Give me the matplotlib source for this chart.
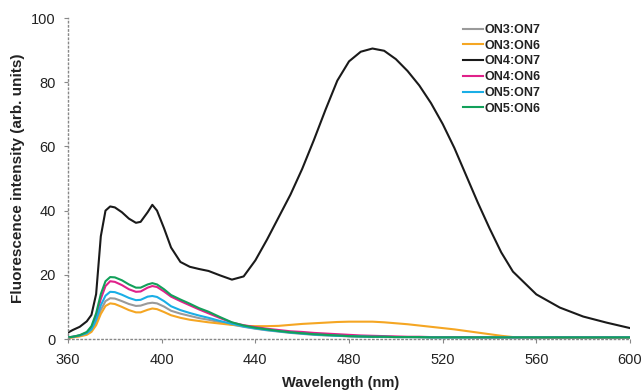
import matplotlib
matplotlib.use("Agg")
import matplotlib.pyplot as plt

wavelength = [360, 362, 365, 368, 370, 372, 374, 376, 378, 380, 383, 386, 389, 391, 394, 396, 398,
              401, 404, 408, 412, 416, 420, 425, 430, 435, 440, 445, 450, 455, 460, 465, 470, 475,
              480, 485, 490, 495, 500, 505, 510, 515, 520, 525, 530, 535, 540, 545, 550, 560, 570,
              580, 590, 600]

on3_on7 = [0.4, 0.6, 1.0, 1.6, 2.6, 5.0, 9.0, 11.8, 12.7, 12.6, 11.8, 10.9, 10.3, 10.4, 11.1, 11.3, 11.1,
           10.1, 8.8, 7.9, 7.2, 6.5, 6.0, 5.2, 4.5, 3.8, 3.2, 2.7, 2.3, 1.9, 1.6, 1.3, 1.1, 1.0,
           0.8, 0.7, 0.7, 0.6, 0.6, 0.6, 0.5, 0.5, 0.5, 0.5, 0.5, 0.5, 0.5, 0.5, 0.5, 0.5, 0.5,
           0.5, 0.5, 0.5]
on3_on6 = [0.3, 0.5, 0.8, 1.3, 2.2, 4.3, 7.8, 10.3, 11.1, 10.9, 10.0, 9.0, 8.3, 8.3, 9.1, 9.5, 9.3,
           8.4, 7.4, 6.6, 6.0, 5.6, 5.2, 4.8, 4.4, 4.1, 4.0, 4.0, 4.1, 4.4, 4.7, 4.9, 5.1, 5.3,
           5.4, 5.4, 5.4, 5.2, 4.9, 4.6, 4.2, 3.8, 3.4, 3.0, 2.5, 2.0, 1.5, 1.0, 0.6, 0.4, 0.3,
           0.3, 0.3, 0.3]
on4_on7 = [2.0, 2.8, 3.8, 5.5, 7.5, 14.0, 32.0, 40.0, 41.3, 41.0, 39.5, 37.5, 36.2, 36.5, 39.5, 41.8, 40.0,
           34.5, 28.5, 24.0, 22.5, 21.8, 21.2, 19.8, 18.5, 19.5, 24.5, 31.0, 38.0, 45.0, 53.0, 62.0, 71.5, 80.5,
           86.5, 89.5, 90.5, 89.8, 87.2, 83.5, 79.0, 73.5, 67.0, 59.5, 51.0, 42.5, 34.5, 27.0, 21.0, 13.9, 9.8,
           7.0, 5.1, 3.4]
on4_on6 = [0.5, 0.7, 1.1, 2.0, 3.5, 7.0, 12.5, 16.5, 18.0, 17.8, 16.8, 15.5, 14.7, 14.8, 16.0, 16.5, 16.2,
           14.8, 13.2, 11.8, 10.5, 9.2, 8.0, 6.5, 5.1, 4.3, 3.7, 3.2, 2.8, 2.4, 2.2, 1.9, 1.7, 1.5,
           1.3, 1.1, 1.0, 0.9, 0.8, 0.7, 0.7, 0.6, 0.6, 0.6, 0.6, 0.5, 0.5, 0.5, 0.5, 0.5, 0.5,
           0.5, 0.5, 0.5]
on5_on7 = [0.5, 0.7, 1.1, 1.8, 3.0, 6.0, 10.5, 13.5, 14.7, 14.6, 13.8, 12.8, 12.1, 12.2, 13.2, 13.4, 13.1,
           11.8, 10.2, 9.0, 8.1, 7.3, 6.6, 5.6, 4.7, 3.9, 3.3, 2.8, 2.4, 2.0, 1.7, 1.4, 1.2, 1.0,
           0.9, 0.8, 0.7, 0.7, 0.6, 0.6, 0.6, 0.5, 0.5, 0.5, 0.5, 0.5, 0.5, 0.5, 0.5, 0.5, 0.5,
           0.5, 0.5, 0.5]
on5_on6 = [0.5, 0.7, 1.2, 2.2, 4.0, 8.0, 14.0, 18.0, 19.3, 19.2, 18.3, 17.0, 16.0, 16.0, 17.0, 17.4, 17.0,
           15.5, 13.7, 12.3, 11.0, 9.6, 8.5, 6.8, 5.2, 4.2, 3.5, 3.0, 2.5, 2.1, 1.8, 1.5, 1.3, 1.1,
           0.9, 0.8, 0.7, 0.7, 0.6, 0.6, 0.6, 0.5, 0.5, 0.5, 0.5, 0.5, 0.5, 0.5, 0.5, 0.5, 0.5,
           0.5, 0.5, 0.5]

series_labels = ["ON3:ON7", "ON3:ON6", "ON4:ON7", "ON4:ON6", "ON5:ON7", "ON5:ON6"]
series_values = [on3_on7, on3_on6, on4_on7, on4_on6, on5_on7, on5_on6]
colors = ["#9a9a9a", "#f5a623", "#1a1a1a", "#e0218a", "#1aaee6", "#12a05a"]

x_ticks = [360, 400, 440, 480, 520, 560, 600]
y_ticks = [0, 20, 40, 60, 80, 100]

plt.rcParams['font.family'] = ['Liberation Sans', 'DejaVu Sans']

fig = plt.figure(figsize=(6.43, 3.92), dpi=100)
ax = fig.add_axes([0.1058, 0.1352, 0.874, 0.8188])

for lab, vals, col in zip(series_labels, series_values, colors):
    ax.plot(wavelength, vals, color=col, lw=1.5, label=lab)

ax.set_xlim(360, 600)
ax.set_ylim(0, 100)
ax.set_xticks(x_ticks)
ax.set_yticks(y_ticks)
ax.tick_params(axis='both', labelsize=10.5, labelcolor='#222222', color='#888888',
               length=3, width=0.8)
ax.tick_params(axis='x', pad=7)
ax.tick_params(axis='y', pad=6)

for s in ['top', 'right']:
    ax.spines[s].set_visible(False)
for s in ['left', 'bottom']:
    ax.spines[s].set_linestyle((0, (1, 2)))
    ax.spines[s].set_color('#888888')
    ax.spines[s].set_linewidth(1.0)

ax.set_xlabel("Wavelength (nm)", fontsize=10.5, fontweight='bold', color='#222222')
ax.xaxis.set_label_coords((341 - 68) / 562, -(383 - 339) / 321, transform=ax.transAxes)
ax.set_ylabel("Fluorescence intensity (arb. units)", fontsize=11, fontweight='bold',
              color='#222222')
ax.yaxis.set_label_coords(-(68 - 18) / 562, 0.5, transform=ax.transAxes)
ax.xaxis.label.set_va('center')
ax.yaxis.label.set_va('center')

leg = ax.legend(loc='upper left', bbox_to_anchor=(463 / 643, 1 - 24 / 392),
                bbox_transform=fig.transFigure, frameon=False,
                prop={'weight': 'bold', 'size': 9}, handlelength=1.6, handletextpad=0.15,
                labelspacing=0.3, borderpad=0, borderaxespad=0)
for t in leg.get_texts():
    t.set_color('#222222')

fig.savefig("out.png", dpi=100)
